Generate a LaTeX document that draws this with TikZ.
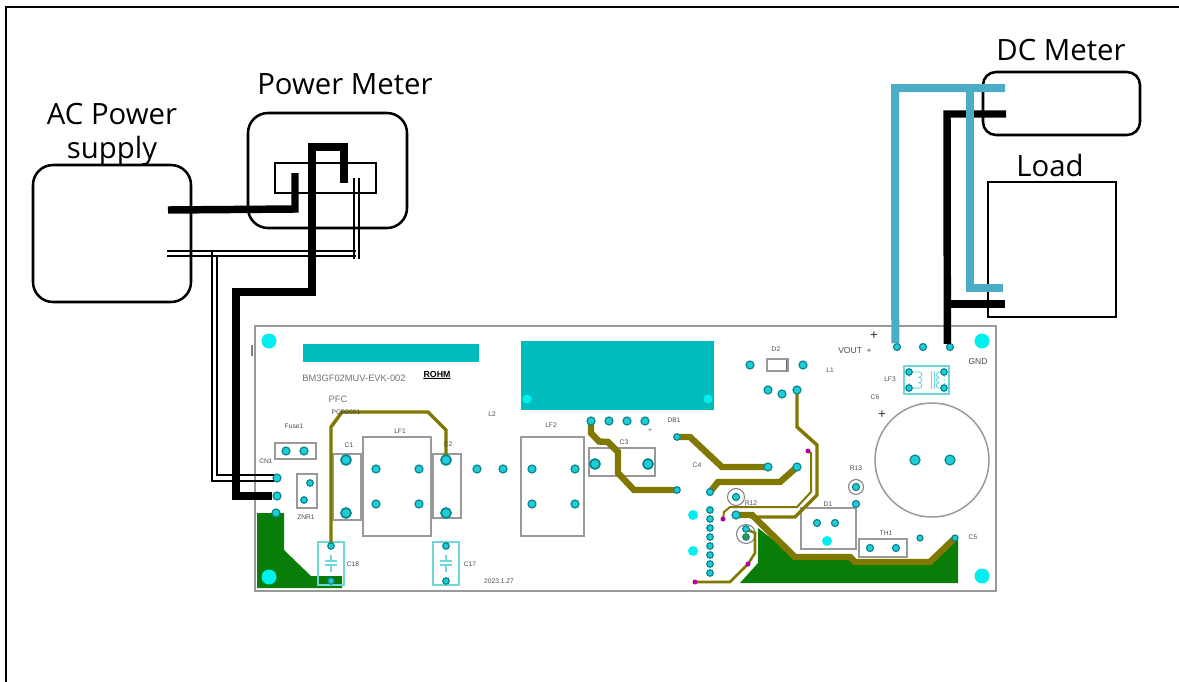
\documentclass[tikz,border=0pt]{standalone}
\usepackage{fontspec}
\setmainfont{Open Sans}
\newfontfamily\pcbfont{Liberation Sans}
\usetikzlibrary{positioning}
\def\px{0.75pt}
\definecolor{padcyan}{RGB}{30,205,215}
\definecolor{padring}{RGB}{10,135,140}
\definecolor{holecyan}{RGB}{0,240,240}
\definecolor{padteal}{RGB}{0,189,189}
\definecolor{traceolive}{RGB}{128,120,0}
\definecolor{pourgreen}{RGB}{8,125,8}
\definecolor{wireblue}{RGB}{75,172,198}
\definecolor{viapurple}{RGB}{180,0,160}
\definecolor{outlinecyan}{RGB}{110,215,215}

\begin{document}
\begin{tikzpicture}[x=0.75pt, y=-0.75pt, line join=miter,
    roundbox/.style={draw, line width=1.9pt, rounded corners=20*\px, inner sep=0pt},
    sharpbox/.style={draw, line width=1.9pt, inner sep=0pt},
    bigtext/.style={font=\fontsize{22}{25.5}\selectfont, align=center, inner sep=0pt},
    pcbtext/.style={font=\pcbfont\fontsize{5}{6}\selectfont, text=black!70, inner sep=0pt},
    pcbbox/.style={draw=black!40, line width=1.1pt, inner sep=0pt},
    cyanbox/.style={draw=outlinecyan, line width=.8pt, inner sep=0pt},
    pad/.style={circle, minimum size=8*\px, inner sep=0pt, fill=padcyan, draw=padring, line width=.9pt},
    bigpad/.style={pad, minimum size=10*\px, line width=1.3pt},
    hole/.style={circle, minimum size=10*\px, inner sep=0pt, fill=holecyan},
    corner/.style={hole, minimum size=15*\px},
    via/.style={circle, minimum size=5*\px, inner sep=0pt, fill=viapurple},
    ringmark/.style={circle, draw=black!50, line width=.8pt, minimum size=17*\px, inner sep=0pt},
    trace/.style={draw=traceolive, line width=2.6pt},
    thintrace/.style={draw=traceolive, line width=1.5pt},
    widetrace/.style={draw=traceolive, line width=4.8pt},
    thickwire/.style={draw=black, line width=5.6pt},
    bluewire/.style={draw=wireblue, line width=6pt},
    finewire/.style={draw=black, line width=1.3pt}]
    \useasboundingbox (0,0) rectangle (1179,682);
    \draw[line width=1.6pt] (6,682) -- (6,7) -- (1179,7);

    \node[pcbbox, minimum width=741*\px, minimum height=265*\px]  (board)  at (625.5,458.5) {};
    \draw[black!50, line width=1pt] (252,345) -- (252,356);

    \fill[padteal]    (303,344) rectangle (479,362);
    \fill[padteal]    (521,341) rectangle (714,410);
    \fill[pourgreen]  (257,513) -- (284,513) -- (284,550) -- (311,576) -- (342,576) -- (342,588) -- (257,588) -- cycle;
    \fill[pourgreen]  (740,583) -- (758,563) -- (758,528) -- (795,557) -- (850,557) -- (855,562) -- (930,562) -- (956,537) -- (958,537) -- (958,583) -- cycle;

    \node[corner]   (holea)  at (269,341) {};
    \node[corner]   (holeb)  at (269,577) {};
    \node[corner]   (holec)  at (982,341) {};
    \node[corner]   (holed)  at (982,576) {};
    \node[hole, minimum size=9*\px]  (holee)  at (527,399) {};
    \node[hole, minimum size=9*\px]  (holef)  at (708,399) {};
    \node[hole]     (holeg)  at (693,515) {};
    \node[hole]     (holeh)  at (693,551) {};
    \node[hole]     (holei)  at (827,541) {};

    \node[pcbbox, minimum width=41*\px, minimum height=16*\px]   (fuse)  at (295.5,451) {};
    \node[pcbbox, minimum width=20*\px, minimum height=34*\px]   (znr)   at (307,491)   {};
    \node[pcbbox, minimum width=28*\px, minimum height=66*\px]   (cone)  at (347,487)   {};
    \node[pcbbox, minimum width=68*\px, minimum height=99*\px]   (lfone) at (397,486.5) {};
    \node[pcbbox, minimum width=28*\px, minimum height=64*\px]   (ctwo)  at (447,486)   {};
    \node[pcbbox, minimum width=63*\px, minimum height=99*\px]   (lftwo) at (552.5,486.5) {};
    \node[pcbbox, minimum width=66*\px, minimum height=28*\px]   (cthree) at (622,462)  {};
    \node[pcbbox, minimum width=21*\px, minimum height=12*\px]   (dtwo)  at (777.5,365) {};
    \node[pcbbox, minimum width=55*\px, minimum height=41*\px]   (done)  at (828.5,528.5) {};
    \node[pcbbox, minimum width=48*\px, minimum height=18*\px]   (thone) at (883,548)   {};
    \node[pcbbox, circle, minimum size=114*\px]                  (csix)  at (932,460)   {};
    \node[cyanbox, minimum width=26*\px, minimum height=43*\px]  (ceight) at (331,563.5) {};
    \node[cyanbox, minimum width=26*\px, minimum height=43*\px]  (cseven) at (446,563.5) {};
    \node[cyanbox, minimum width=45*\px, minimum height=28*\px]  (lfthree) at (926.5,380) {};
    \draw[black!60, line width=1pt] (786.5,359.5) -- (786.5,370.5);

    \node[ringmark]                       (rtwelve)  at (736,497) {};
    \node[ringmark, minimum size=19*\px]  (rtrim)    at (746,534) {};
    \node[ringmark, minimum size=15*\px]  (rthirteen) at (856,487) {};

    \foreach \a/\b/\c in {331/555/561, 331/565/572, 446/555/561, 446/565/572}
        \draw[outlinecyan, line width=.8pt] (\a,\b) -- (\a,\c);
    \foreach \a/\b in {325/561, 325/565, 440/561, 440/565}
        \draw[outlinecyan, line width=.8pt] (\a,\b) -- +(12,0);
    \draw[outlinecyan, line width=.7pt, dotted] (909,372) -- (909,388) (944,372) -- (944,388);
    \draw[outlinecyan, line width=.7pt] (931.5,371) -- (931.5,389) (934,371) -- (934,389);
    \draw[outlinecyan, line width=.7pt] (912,372) -- (919,372) arc (-90:90:2.7) arc (-90:90:2.7) arc (-90:90:2.7) -- (912,388);
    \draw[outlinecyan, line width=.7pt] (941,372) -- (939,372) arc (-90:-270:2.7) arc (-90:-270:2.7) arc (-90:-270:2.7) -- (941,388);

    \draw[trace]      (331,546) -- (331,427) -- (342,412) -- (428,412) -- (446,430) -- (446,460);
    \draw[widetrace]  (591,421) -- (591,433) -- (599,441.5) -- (608,442) -- (618,452) -- (618,473) -- (634,490) -- (677,490);
    \draw[widetrace]  (677,437) -- (690,437) -- (722,467) -- (768,467);
    \draw[widetrace]  (710,492) -- (718,482) -- (780,482) -- (797,467);
    \draw[widetrace]  (736,515) -- (752,515) -- (795,557) -- (850,557) -- (855,562) -- (930,562) -- (955,538);
    \draw[trace]      (797,390) -- (797,427) -- (817,445) -- (817,495) -- (795,517) -- (750,517);
    \draw[thintrace]  (723,519) -- (724,512) -- (730,507) -- (797,507) -- (811,492) -- (811,453) -- (808,451);
    \draw[thintrace, line width=1.9pt]  (746,529) -- (755,533) -- (755,553) -- (748,564) -- (730,582) -- (695,582);

    \node[pad]      (cnonea)  at (277,478) {};
    \node[pad]      (cnoneb)  at (277,496) {};
    \node[pad]      (cnonec)  at (276,513) {};
    \node[pad]      (fusea)   at (286,451) {};
    \node[pad]      (fuseb)   at (304,451) {};
    \node[pad, minimum size=6.5*\px]      (znra)    at (310,483) {};
    \node[pad, minimum size=6.5*\px]      (znrb)    at (304,500) {};
    \node[bigpad]   (conea)   at (346,460) {};
    \node[bigpad]   (coneb)   at (346,513) {};
    \node[pad]      (lfonea)  at (376,469) {};
    \node[pad]      (lfoneb)  at (419,469) {};
    \node[pad]      (lfonec)  at (376,504) {};
    \node[pad]      (lfoned)  at (419,504) {};
    \node[bigpad]   (ctwoa)   at (446,460) {};
    \node[bigpad]   (ctwob)   at (446,513) {};
    \node[pad]      (ltwoa)   at (477,469) {};
    \node[pad]      (ltwob)   at (503,469) {};
    \node[pad, minimum size=6.5*\px]      (ceighta) at (331,546) {};
    \node[pad, minimum size=6.5*\px]      (ceightb) at (331,581) {};
    \node[pad, minimum size=6.5*\px]      (csevena) at (446,546) {};
    \node[pad, minimum size=6.5*\px]      (csevenb) at (446,581) {};
    \node[pad]      (lftwoa)  at (532,469) {};
    \node[pad]      (lftwob)  at (575,469) {};
    \node[pad]      (lftwoc)  at (532,504) {};
    \node[pad]      (lftwod)  at (575,504) {};
    \node[pad]      (dba)     at (591,421) {};
    \node[pad]      (dbb)     at (609,421) {};
    \node[pad]      (dbc)     at (627,421) {};
    \node[pad]      (dbd)     at (645,421) {};
    \node[bigpad]   (cthreea) at (595,464) {};
    \node[bigpad]   (cthreeb) at (648,464) {};
    \node[pad, minimum size=6.5*\px]      (traceaend) at (677,437) {};
    \node[pad, minimum size=6.5*\px]      (tracebend) at (677,490) {};
    \node[pad]      (tracecend) at (768,467) {};
    \node[pad]      (tracedend) at (797,467) {};
    \node[pad, minimum size=7*\px]        (tracedstart) at (710,492) {};
    \node[pad, minimum size=7*\px]        (rtwelvepad)  at (736,497) {};
    \foreach \y [count=\i] in {510,519,528,537,546,555,564,573}
        \node[pad, minimum size=6.5*\px]  (header\i) at (710,\y) {};
    \node[pad]      (traceestart) at (736,515) {};
    \node[pad, minimum size=6.5*\px]      (rtrima)  at (746,529) {};
    \node[pad, minimum size=6.5*\px, fill=pourgreen!80]  (rtrimb)  at (746,537) {};
    \node[via]      (viaa)    at (723,519) {};
    \node[via]      (viab)    at (748,564) {};
    \node[via]      (viac)    at (695,582) {};
    \node[via]      (viad)    at (808,451) {};
    \node[pad]      (dtwoa)   at (750,365) {};
    \node[pad]      (dtwob)   at (803,365) {};
    \node[pad]      (lonea)   at (768,390) {};
    \node[pad]      (loneb)   at (782,394) {};
    \node[pad]      (lonec)   at (797,390) {};
    \node[pad, minimum size=7*\px]        (rthirteenpad) at (856,487) {};
    \node[pad, minimum size=7*\px]        (rthirteenb)   at (856,504) {};
    \node[pad, minimum size=7*\px]        (donea)   at (817,523) {};
    \node[pad, minimum size=7*\px]        (doneb)   at (835,523) {};
    \node[pad, minimum size=7*\px]        (thonea)  at (870,548) {};
    \node[pad, minimum size=7*\px]        (thoneb)  at (896,548) {};
    \node[pad, minimum size=6*\px]        (fivea)   at (920,538) {};
    \node[pad, minimum size=6*\px]        (fiveb)   at (955,538) {};
    \node[bigpad, line width=.9pt]        (csixa)   at (915,460) {};
    \node[bigpad, line width=.9pt]        (csixb)   at (950,460) {};
    \node[pad, minimum size=6.5*\px]      (lfthreea) at (909,372) {};
    \node[pad, minimum size=6.5*\px]      (lfthreeb) at (944,372) {};
    \node[pad, minimum size=6.5*\px]      (lfthreec) at (909,388) {};
    \node[pad, minimum size=6.5*\px]      (lfthreed) at (944,388) {};
    \node[pad, minimum size=7*\px]        (vout)    at (897,347) {};
    \node[pad, minimum size=7*\px]        (midout)  at (923,347) {};
    \node[pad, minimum size=7*\px]        (gnd)     at (950,347) {};

    \node[pcbtext, font=\pcbfont\fontsize{7}{9}\selectfont, text=black!55]  (boardname) at (354,378) {BM3GF02MUV-EVK-002};
    \node[pcbtext, font=\pcbfont\bfseries\fontsize{6.6}{8}\selectfont, text=black]  (rohm) at (437,374) {ROHM};
    \draw[line width=.8pt] (rohm.south west) ++(0,1) -- ([yshift=-.7pt]rohm.south east);
    \node[pcbtext, font=\pcbfont\fontsize{7}{9}\selectfont, text=black!55]  (pfc) at (338,399) {PFC};
    \node[pcbtext]  (pcbno)    at (346,412) {PCB0001};
    \node[pcbtext]  (fuselbl)  at (294,426) {Fuse1};
    \node[pcbtext]  (cnlbl)    at (266,461) {CN1};
    \node[pcbtext]  (znrlbl)   at (306,517) {ZNR1};
    \node[pcbtext]  (conelbl)  at (349,445) {C1};
    \node[pcbtext]  (lfonelbl) at (400,431) {LF1};
    \node[pcbtext]  (ctwolbl)  at (448,444) {C2};
    \node[pcbtext]  (ltwolbl)  at (492,414) {L2};
    \node[pcbtext]  (lftwolbl) at (551,425) {LF2};
    \node[pcbtext]  (cthreelbl) at (624,442) {C3};
    \node[pcbtext]  (dblbl)    at (674,420) {DB1};
    \node[pcbtext]  (plus)     at (650,431) {+};
    \node[pcbtext]  (cfourlbl) at (697,465) {C4};
    \node[pcbtext]  (rtwelvelbl) at (751,503) {R12};
    \node[pcbtext]  (ceightlbl) at (353,564) {C18};
    \node[pcbtext]  (csevenlbl) at (470,564) {C17};
    \node[pcbtext]  (datelbl)  at (499,581) {2023.1.27};
    \node[pcbtext]  (dtwolbl)  at (776,349) {D2};
    \node[pcbtext]  (lonelbl)  at (830,370) {L1};
    \node[pcbtext]  (rthirteenlbl) at (856,468) {R13};
    \node[pcbtext]  (donelbl)  at (828,504) {D1};
    \node[pcbtext]  (thonelbl) at (886,533) {TH1};
    \node[pcbtext]  (cfivelbl) at (973,537) {C5};
    \node[pcbtext]  (lfthreelbl) at (890,379) {LF3};
    \node[pcbtext]  (csixlbl)  at (875,397) {C6};
    \node[pcbtext, font=\pcbfont\fontsize{10}{12}\selectfont, text=black!80]  (csixplus) at (882,415) {+};
    \node[pcbtext, font=\pcbfont\fontsize{10}{12}\selectfont, text=black!80]  (voutplus) at (874,336) {+};
    \node[pcbtext, font=\pcbfont\fontsize{6.4}{8}\selectfont]  (voutlbl) at (855,351) {VOUT\ \ +};
    \node[pcbtext, font=\pcbfont\fontsize{6.4}{8}\selectfont]  (gndlbl)  at (978,362) {GND};

    \node[roundbox, minimum width=158*\px, minimum height=137*\px]  (acsupply) at (112,233.5) {};
    \node[roundbox, minimum width=159*\px, minimum height=115*\px]  (meter)    at (327.5,170.5) {};
    \node[sharpbox, line width=1.5pt, minimum width=101*\px, minimum height=30*\px]  (socket) at (325.5,178) {};
    \node[roundbox, rounded corners=13*\px, minimum width=157*\px, minimum height=63*\px]  (dcmeter) at (1061.5,103.5) {};
    \node[sharpbox, minimum width=128*\px, minimum height=135*\px]  (load)     at (1052,249.5) {};

    \node[bigtext]  (aclbl)    at (112,134)  {AC Power\\supply};
    \node[bigtext]  (meterlbl) at (345,84)   {Power Meter};
    \node[bigtext]  (dclbl)    at (1061,50)  {DC Meter};
    \node[bigtext]  (loadlbl)  at (1050,165) {Load};

    \coordinate (acfine)    at (167,251);
    \coordinate (acfineb)   at (167,256);
    \coordinate (finea)     at (356,251);
    \coordinate (fineb)     at (356,256);
    \coordinate (sockfinea) at (354,178);
    \coordinate (sockfineb) at (359,178);
    \coordinate (downa)     at (212,251);
    \coordinate (downb)     at (217,256);
    \coordinate (acthick)   at (168,210);
    \coordinate (livebend)  at (295,209);
    \coordinate (livein)    at (295,173);
    \coordinate (outin)     at (344,183);
    \coordinate (outtop)    at (344,147);
    \coordinate (outturn)   at (312,147);
    \coordinate (outdown)   at (312,292);
    \coordinate (cnturn)    at (236,292);
    \coordinate (cnlow)     at (236,496);
    \coordinate (blueturn)  at (895,88);
    \coordinate (dcplus)    at (1005,88);
    \coordinate (bluesplit) at (970,88);
    \coordinate (blueload)  at (970,288);
    \coordinate (loadplus)  at (1003,288);
    \coordinate (blackturn) at (947,114);
    \coordinate (dcminus)   at (1006,114);
    \coordinate (blacksplit) at (947,304);
    \coordinate (loadminus) at (1005,304);

    \draw[finewire]   (acfine) -- (finea);
    \draw[finewire]   (acfineb) -- (fineb);
    \draw[finewire]   (sockfinea) -- ++(0,81);
    \draw[finewire]   (sockfineb) -- ++(0,81);
    \draw[finewire]   (downa) |- (cnonea.south west);
    \draw[finewire]   (downb) |- (cnonea.north west);

    \draw[thickwire]  (acthick) -- (livebend) -- (livein);
    \draw[thickwire]  (outin) -- (outtop) -- (outturn) -- (outdown) -- (cnturn) -- (cnlow) -- (cnoneb);
    \draw[thickwire]  (gnd.130) -- (blackturn) -- (dcminus);
    \draw[thickwire]  (blacksplit) -- (loadminus);
    \draw[bluewire]   (vout.115) -- (blueturn) -- (dcplus);
    \draw[bluewire, line width=5.4pt]  (bluesplit) -- (blueload) -- (loadplus);
\end{tikzpicture}
\end{document}
